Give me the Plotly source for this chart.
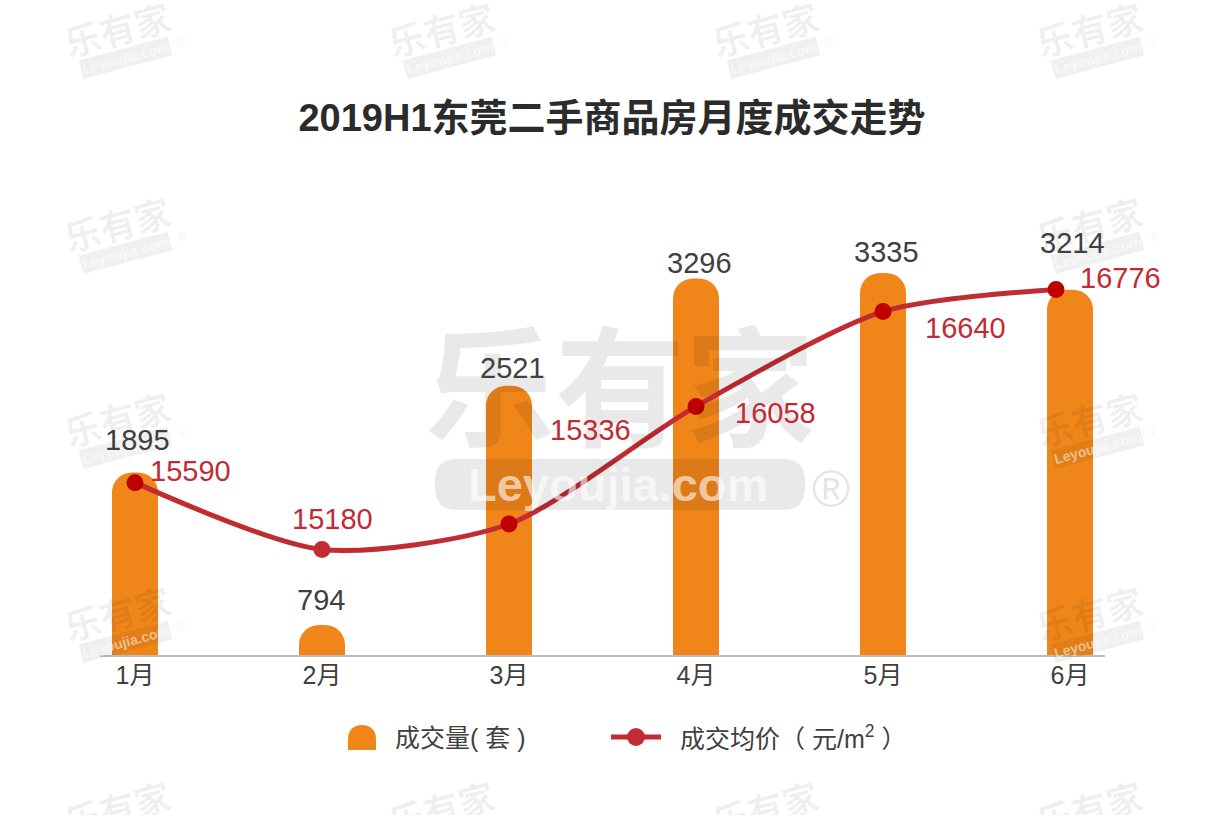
import plotly.graph_objects as go

months = ["1月", "2月", "3月", "4月", "5月", "6月"]
month_pos = [0, 1, 2, 3, 4, 5]
volume = [1895, 794, 2521, 3296, 3335, 3214]
price = [15590, 15180, 15336, 16058, 16640, 16776]
price_pos = [0, 1, 2, 3, 4, 4.925]
title_text = "2019H1东莞二手商品房月度成交走势"
volume_name = "成交量( 套 )"
price_name = "成交均价（ 元/m<sup>2</sup> ）"
brand_cn = "乐有家"
brand_en = "Leyoujia.com"

FONT = "Liberation Sans, Arial, Noto Sans CJK SC, sans-serif"
ORANGE = "#F0861A"
RED = "#C12C32"
DARKRED = "#C00000"
GREY = "#404040"
W, H = 1223, 815
L, R, T, B = 100, 1105, 200, 655
PW, PH = R - L, B - T

def px(x):
    return (x - L) / PW

def py(y):
    return (B - y) / PH

vol_shift = [(3, 32), (-1, 25), (4, 18), (3, 15), (3, 21), (2, 47)]
price_shift = [(56, 12), (11, 30), (82, 94), (79, -7), (82, -16), (64, 11)]

fig = go.Figure()
fig.add_trace(go.Bar(x=month_pos, y=volume, name=volume_name, width=0.246,
                     marker=dict(color=ORANGE, line=dict(width=0)), yaxis="y"))
fig.add_trace(go.Scatter(x=price_pos, y=price, name=price_name, mode="lines+markers", yaxis="y2",
                         line=dict(color=RED, width=5, shape="spline", smoothing=0.75),
                         marker=dict(size=17, color=[DARKRED, RED, DARKRED, DARKRED, DARKRED, DARKRED])))

ann, shapes = [], []
CENTER = dict(xref="paper", yref="paper", xanchor="center", yanchor="middle", showarrow=False)

# small tiled watermarks (middle columns only at the top and bottom rows)
marks = [(cx, cy) for cx in (125, 1097) for cy in (38, 233, 428, 622, 817)]
marks += [(cx, cy) for cx in (449, 773) for cy in (38, 817)]
for cx, cy in marks:
    ann.append(dict(text=brand_cn, x=px(cx - 8), y=py(cy - 10), textangle=-15, **CENTER,
                    font=dict(size=36, family="Noto Sans CJK SC", weight=700, color="rgba(0,0,0,0.06)")))
    ann.append(dict(text=brand_en, x=px(cx), y=py(cy + 20), textangle=-15, **CENTER,
                    bgcolor="rgba(0,0,0,0.06)", borderpad=1,
                    font=dict(size=14, family=FONT, weight=700, color="rgba(255,255,255,0.5)")))
    ann.append(dict(text="®", x=px(cx + 56), y=py(cy + 5), **CENTER,
                    font=dict(size=12, family=FONT, color="rgba(0,0,0,0.08)")))

# large central watermark
ann.append(dict(text=brand_cn, x=px(620), y=py(379), **CENTER,
                font=dict(size=130, family="Noto Sans CJK SC", weight=700, color="rgba(0,0,0,0.085)")))
x0, x1, y0, y1, r = px(435), px(805), py(510), py(459), 22
rx, ry = r / PW, r / PH
shapes.append(dict(type="path", xref="paper", yref="paper", layer="above", line=dict(width=0),
                   fillcolor="rgba(0,0,0,0.085)",
                   path=f"M {x0+rx} {y0} L {x1-rx} {y0} Q {x1} {y0} {x1} {y0+ry} L {x1} {y1-ry} Q {x1} {y1} {x1-rx} {y1} "
                        f"L {x0+rx} {y1} Q {x0} {y1} {x0} {y1-ry} L {x0} {y0+ry} Q {x0} {y0} {x0+rx} {y0} Z"))
ann.append(dict(text=brand_en, x=px(618), y=py(484), **CENTER,
                font=dict(size=47, family=FONT, weight=700, color="rgba(255,255,255,0.6)")))
ann.append(dict(text="®", x=px(831), y=py(489), **CENTER,
                font=dict(size=52, family=FONT, color="rgba(0,0,0,0.10)")))

# value labels
for p, v, (dx, dy) in zip(month_pos, volume, vol_shift):
    ann.append(dict(text=str(v), x=p, y=v, xref="x", yref="y", showarrow=False, xshift=dx, yshift=dy,
                    font=dict(size=29, family=FONT, color=GREY)))
for p, v, (dx, dy) in zip(price_pos, price, price_shift):
    ann.append(dict(text=str(v), x=p, y=v, xref="x", yref="y2", showarrow=False, xshift=dx, yshift=dy,
                    font=dict(size=29, family=FONT, color=RED)))

# legend
sx0, sx1, sy0, sy1 = px(348), px(376), py(750), py(725)
shapes.append(dict(type="path", xref="paper", yref="paper", layer="above", line=dict(width=0), fillcolor=ORANGE,
                   path=f"M {sx0} {sy0} L {sx1} {sy0} L {sx1} {py(739)} C {sx1} {py(729)} {px(369)} {sy1} {px(362)} {sy1} "
                        f"C {px(355)} {sy1} {sx0} {py(729)} {sx0} {py(739)} Z"))
ann.append(dict(text=volume_name, xref="paper", yref="paper", x=px(393), y=py(738), xanchor="left", yanchor="middle",
                showarrow=False, font=dict(size=25, family=FONT, color=GREY)))
shapes.append(dict(type="line", xref="paper", yref="paper", x0=px(611), x1=px(661), y0=py(737), y1=py(737),
                   layer="above", line=dict(color=RED, width=5)))
shapes.append(dict(type="circle", xref="paper", yref="paper", x0=px(627), x1=px(645), y0=py(746), y1=py(728),
                   layer="above", line=dict(width=0), fillcolor=RED))
ann.append(dict(text=price_name, xref="paper", yref="paper", x=px(678), y=py(737), xanchor="left", yanchor="middle",
                showarrow=False, font=dict(size=25, family=FONT, color=GREY)))

fig.update_layout(
    width=W, height=H, autosize=False, paper_bgcolor="white", plot_bgcolor="white",
    margin=dict(l=L, r=W - R, t=T, b=H - B, pad=0), showlegend=False, barcornerradius=20,
    title=dict(text=title_text, x=612 / W, xanchor="center", y=1 - 118 / H, yanchor="middle",
               font=dict(size=38, family=FONT, weight=700, color="#2B2B2B")),
    xaxis=dict(tickmode="array", tickvals=month_pos, ticktext=months, range=[-0.187, 5.187], showgrid=False,
               zeroline=False, showline=True, linecolor="#BDBDBD", linewidth=2, ticks="", ticklabelstandoff=-3,
               tickfont=dict(size=25, family=FONT, color=GREY)),
    yaxis=dict(range=[577, 3862], visible=False, showgrid=False, zeroline=False),
    yaxis2=dict(range=[14532, 17325], overlaying="y", side="right", visible=False, showgrid=False, zeroline=False),
    annotations=ann, shapes=shapes,
)
fig.write_html("out.html", config=dict(displayModeBar=False),
               post_script="document.body.style.margin='0';document.documentElement.style.overflow='hidden';")
